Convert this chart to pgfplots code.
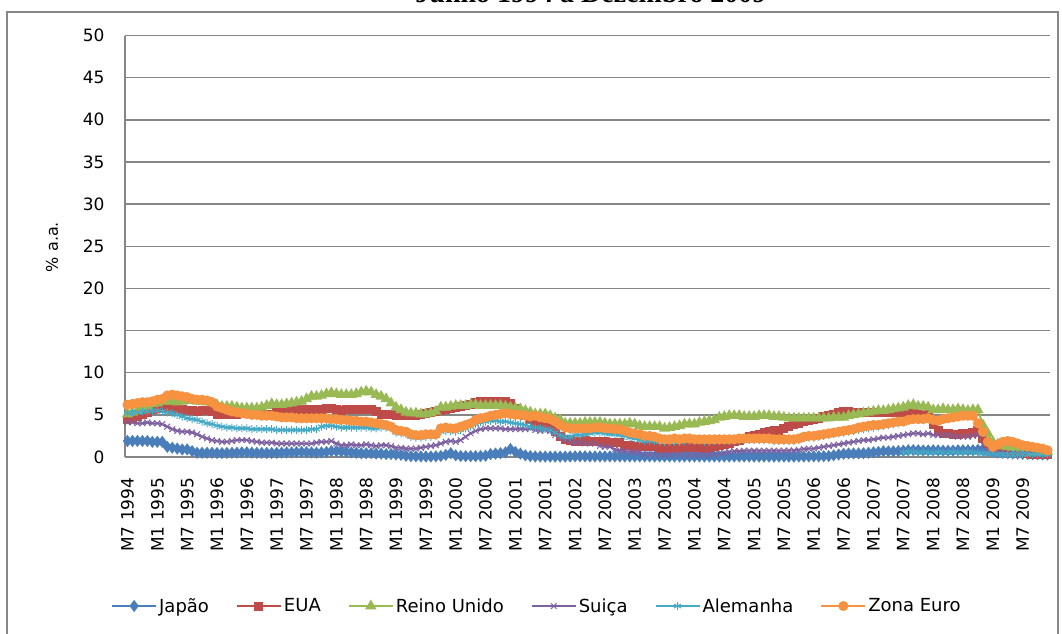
\documentclass[border=0pt]{standalone}
\usepackage{pgfplots}
\pgfplotsset{compat=1.18}
\usepackage{pgfplotstable}
\usepackage{fontspec}
\setmainfont{DejaVu Sans}
\newfontfamily\titlefont{Liberation Serif}

\definecolor{cjp}{HTML}{4A7EBB}
\definecolor{cus}{HTML}{BE4B48}
\definecolor{cuk}{HTML}{98B954}
\definecolor{cch}{HTML}{7D60A0}
\definecolor{cde}{HTML}{46AAC5}
\definecolor{ceu}{HTML}{F69240}
\definecolor{gridgray}{HTML}{868686}

% monthly rates, M7 1994 (i=0) to M12 2009 (i=185)
\pgfplotstableread{
i jp us uk ch de eu
0 1.9 4.5 5.1 4.1 5.2 6.2
1 1.9 4.6 5.3 4.1 5.3 6.3
2 1.9 4.8 5.5 4.0 5.3 6.4
3 1.9 5.0 5.8 4.0 5.4 6.5
4 1.9 5.3 6.0 4.1 5.4 6.5
5 1.8 5.6 6.3 4.0 5.5 6.6
6 1.8 5.8 6.4 4.0 5.5 6.8
7 1.8 5.9 6.6 3.9 5.4 6.9
8 1.2 5.9 6.6 3.6 5.3 7.3
9 1.1 5.8 6.6 3.3 5.2 7.4
10 1.0 5.8 6.5 3.1 5.0 7.3
11 0.9 5.6 6.6 3.0 4.8 7.2
12 0.9 5.5 6.7 3.0 4.6 7.1
13 0.7 5.5 6.7 2.9 4.5 6.9
14 0.5 5.4 6.6 2.7 4.4 6.8
15 0.5 5.5 6.6 2.4 4.2 6.8
16 0.5 5.5 6.5 2.2 4.0 6.7
17 0.5 5.4 6.4 2.0 3.9 6.5
18 0.47 5.1 6.2 1.9 3.7 6.0
19 0.47 5.0 6.0 1.8 3.6 5.8
20 0.48 5.0 6.0 1.8 3.5 5.6
21 0.50 5.0 6.0 1.9 3.5 5.4
22 0.52 5.1 5.9 2.0 3.4 5.3
23 0.55 5.2 5.8 2.0 3.4 5.2
24 0.55 5.3 5.8 2.0 3.4 5.1
25 0.52 5.2 5.8 1.9 3.3 5.0
26 0.50 5.2 5.8 1.8 3.3 5.0
27 0.49 5.1 5.9 1.7 3.3 4.9
28 0.48 5.1 6.1 1.7 3.3 4.9
29 0.48 5.1 6.3 1.7 3.3 4.9
30 0.50 5.4 6.2 1.6 3.2 4.8
31 0.52 5.4 6.2 1.6 3.2 4.7
32 0.55 5.5 6.3 1.6 3.2 4.7
33 0.55 5.6 6.4 1.6 3.2 4.7
34 0.58 5.7 6.5 1.6 3.2 4.6
35 0.60 5.6 6.6 1.6 3.2 4.6
36 0.58 5.6 6.9 1.6 3.2 4.6
37 0.55 5.6 7.2 1.6 3.3 4.6
38 0.52 5.6 7.2 1.7 3.3 4.6
39 0.55 5.6 7.3 1.8 3.6 4.6
40 0.60 5.7 7.5 1.8 3.7 4.6
41 0.70 5.8 7.6 1.9 3.7 4.5
42 0.70 5.6 7.5 1.6 3.6 4.5
43 0.65 5.5 7.4 1.4 3.5 4.4
44 0.60 5.6 7.4 1.4 3.5 4.4
45 0.55 5.6 7.4 1.5 3.5 4.3
46 0.50 5.6 7.5 1.4 3.5 4.3
47 0.45 5.6 7.7 1.4 3.5 4.2
48 0.45 5.6 7.8 1.5 3.5 4.2
49 0.45 5.6 7.7 1.4 3.4 4.1
50 0.40 5.4 7.4 1.3 3.4 4.0
51 0.40 5.0 7.2 1.4 3.5 3.9
52 0.35 5.1 6.9 1.4 3.5 3.8
53 0.35 5.0 6.4 1.3 3.4 3.6
54 0.30 4.9 5.9 1.1 2.9 3.2
55 0.25 4.9 5.6 1.1 2.8 3.1
56 0.15 4.9 5.3 1.0 2.7 3.0
57 0.10 4.9 5.2 1.0 2.4 2.7
58 0.08 4.9 5.2 1.0 2.3 2.6
59 0.07 5.1 5.1 1.1 2.3 2.6
60 0.06 5.2 5.1 1.2 2.4 2.7
61 0.06 5.3 5.2 1.3 2.4 2.7
62 0.08 5.4 5.4 1.4 2.5 2.7
63 0.12 5.5 5.9 1.6 3.0 3.4
64 0.25 5.6 5.9 1.8 3.1 3.5
65 0.45 5.8 6.0 1.9 3.1 3.4
66 0.20 5.9 6.1 1.8 3.0 3.4
67 0.12 6.0 6.1 2.0 3.2 3.6
68 0.10 6.1 6.1 2.4 3.4 3.8
69 0.10 6.2 6.2 2.8 3.6 4.0
70 0.10 6.5 6.2 3.1 3.9 4.4
71 0.12 6.6 6.1 3.3 4.1 4.6
72 0.15 6.6 6.1 3.4 4.2 4.7
73 0.35 6.6 6.1 3.4 4.3 4.9
74 0.40 6.6 6.1 3.4 4.3 5.0
75 0.45 6.6 6.1 3.4 4.2 5.1
76 0.55 6.6 6.0 3.3 4.2 5.2
77 0.95 6.4 5.9 3.3 4.1 5.1
78 0.60 5.7 5.8 3.3 4.0 5.0
79 0.40 5.3 5.7 3.3 3.9 5.0
80 0.20 4.9 5.5 3.3 3.8 4.9
81 0.10 4.5 5.3 3.4 3.6 4.8
82 0.06 3.9 5.1 3.2 3.5 4.9
83 0.06 3.7 5.1 3.1 3.4 4.7
84 0.05 3.6 5.1 3.2 3.3 4.6
85 0.05 3.5 4.9 3.1 3.2 4.5
86 0.05 3.0 4.6 2.6 2.9 4.2
87 0.05 2.4 4.4 2.3 2.6 3.8
88 0.05 2.1 4.0 2.0 2.4 3.5
89 0.06 1.9 4.0 1.9 2.4 3.4
90 0.08 1.8 4.0 1.7 2.6 3.4
91 0.08 1.8 4.0 1.7 2.6 3.4
92 0.08 1.9 4.1 1.6 2.7 3.4
93 0.07 1.8 4.1 1.6 2.8 3.4
94 0.07 1.8 4.1 1.6 2.9 3.5
95 0.07 1.8 4.1 1.3 2.9 3.5
96 0.07 1.8 4.0 1.2 2.8 3.4
97 0.07 1.7 3.9 1.2 2.7 3.4
98 0.07 1.7 3.9 0.9 2.7 3.3
99 0.07 1.7 3.9 0.8 2.6 3.3
100 0.07 1.4 3.9 0.7 2.5 3.1
101 0.07 1.4 4.0 0.6 2.3 2.9
102 0.07 1.3 3.9 0.6 2.2 2.8
103 0.07 1.3 3.7 0.5 2.0 2.7
104 0.07 1.2 3.6 0.3 1.9 2.5
105 0.07 1.2 3.6 0.3 1.9 2.5
106 0.06 1.2 3.6 0.3 1.9 2.4
107 0.06 1.0 3.6 0.25 1.8 2.2
108 0.06 1.0 3.4 0.25 1.8 2.1
109 0.06 1.0 3.5 0.3 1.8 2.1
110 0.06 1.0 3.6 0.3 1.8 2.2
111 0.06 1.1 3.7 0.3 1.8 2.1
112 0.06 1.1 3.9 0.3 1.9 2.2
113 0.06 1.1 3.9 0.25 1.9 2.2
114 0.06 1.1 3.9 0.25 1.9 2.1
115 0.06 1.1 4.1 0.25 1.9 2.1
116 0.06 1.0 4.2 0.25 1.8 2.1
117 0.06 1.1 4.3 0.3 1.8 2.1
118 0.06 1.2 4.4 0.3 1.9 2.1
119 0.06 1.4 4.7 0.4 1.9 2.1
120 0.06 1.5 4.8 0.5 1.9 2.1
121 0.06 1.6 4.9 0.6 1.9 2.1
122 0.06 1.8 4.9 0.7 1.9 2.1
123 0.06 2.0 4.9 0.7 1.9 2.2
124 0.06 2.2 4.8 0.75 2.0 2.2
125 0.06 2.4 4.8 0.75 2.0 2.2
126 0.05 2.6 4.8 0.75 2.0 2.2
127 0.05 2.7 4.9 0.75 2.0 2.2
128 0.05 2.9 4.9 0.75 2.0 2.2
129 0.05 3.0 4.9 0.75 2.0 2.2
130 0.05 3.1 4.8 0.75 1.9 2.1
131 0.05 3.2 4.8 0.75 1.9 2.1
132 0.05 3.4 4.7 0.75 1.9 2.1
133 0.05 3.6 4.6 0.77 1.9 2.1
134 0.05 3.8 4.6 0.78 1.9 2.1
135 0.06 4.0 4.6 0.85 2.0 2.2
136 0.06 4.2 4.6 0.95 2.2 2.4
137 0.07 4.3 4.6 1.0 2.3 2.5
138 0.08 4.5 4.6 1.0 2.3 2.5
139 0.08 4.6 4.6 1.1 2.4 2.6
140 0.10 4.8 4.6 1.2 2.5 2.7
141 0.12 4.9 4.6 1.3 2.6 2.8
142 0.20 5.1 4.7 1.4 2.7 2.9
143 0.30 5.3 4.7 1.5 2.8 3.0
144 0.38 5.4 4.7 1.6 2.9 3.1
145 0.42 5.4 4.9 1.7 3.0 3.2
146 0.42 5.3 5.0 1.8 3.1 3.3
147 0.43 5.3 5.1 1.9 3.2 3.5
148 0.45 5.3 5.2 2.0 3.3 3.6
149 0.50 5.3 5.3 2.0 3.4 3.7
150 0.55 5.3 5.4 2.1 3.5 3.8
151 0.60 5.3 5.5 2.2 3.6 3.8
152 0.68 5.3 5.5 2.3 3.7 3.9
153 0.68 5.3 5.6 2.3 3.8 4.0
154 0.68 5.3 5.7 2.4 3.9 4.1
155 0.70 5.3 5.8 2.5 4.0 4.2
156 0.75 5.3 5.9 2.6 0.5 4.2
157 0.80 5.4 6.1 2.7 0.6 4.4
158 0.82 5.4 6.2 2.8 0.6 4.5
159 0.80 5.1 6.0 2.8 0.5 4.5
160 0.78 4.9 6.0 2.7 0.6 4.5
161 0.78 5.0 5.9 2.8 0.5 4.6
162 0.80 3.9 5.6 2.6 0.5 4.4
163 0.78 3.1 5.6 2.6 0.6 4.3
164 0.75 2.8 5.7 2.6 0.5 4.5
165 0.75 2.8 5.6 2.6 0.5 4.6
166 0.75 2.7 5.6 2.5 0.6 4.7
167 0.80 2.7 5.7 2.4 0.5 4.8
168 0.80 2.8 5.6 2.4 0.5 4.9
169 0.80 2.8 5.5 2.4 0.6 4.9
170 0.80 2.9 5.6 2.5 0.5 4.9
171 0.85 3.2 5.6 2.6 0.5 4.0
172 0.80 2.2 3.8 1.5 0.4 3.0
173 0.70 1.6 2.8 0.9 0.4 1.8
174 0.60 1.1 1.8 0.5 0.4 1.2
175 0.55 1.2 1.5 0.4 0.3 1.5
176 0.50 1.2 1.3 0.4 0.3 1.8
177 0.45 1.0 1.2 0.4 0.3 1.9
178 0.42 0.8 1.1 0.4 0.3 1.8
179 0.40 0.6 1.0 0.4 0.3 1.6
180 0.38 0.5 0.9 0.4 0.3 1.4
181 0.35 0.4 0.8 0.4 0.3 1.3
182 0.33 0.3 0.6 0.35 0.3 1.2
183 0.32 0.3 0.6 0.3 0.3 1.1
184 0.30 0.3 0.6 0.3 0.3 1.0
185 0.30 0.3 0.6 0.3 0.3 0.8
}\rates

\begin{document}
\begin{tikzpicture}[x=1pt,y=1pt]
\draw[gridgray, line width=1.2pt] (7,-10) rectangle (1058,621);
\node[font=\titlefont\bfseries\fontsize{28}{30}\selectfont, anchor=base] at (591,630) {Junho 1994 a Dezembro 2009};
\node[rotate=90, font=\fontsize{16}{18}\selectfont] at (52,386) {\% a.a.};
\begin{axis}[
  at={(125pt,176pt)}, anchor=south west,
  scale only axis, width=925pt, height=421.5pt,
  xmin=-0.5, xmax=185.5, ymin=0, ymax=50,
  ytick={0,5,...,50},
  xtick={0,6,...,180},
  xticklabels={M7 1994,M1 1995,M7 1995,M1 1996,M7 1996,M1 1997,M7 1997,M1 1998,M7 1998,M1 1999,M7 1999,M1 2000,M7 2000,M1 2001,M7 2001,M1 2002,M7 2002,M1 2003,M7 2003,M1 2004,M7 2004,M1 2005,M7 2005,M1 2006,M7 2006,M1 2007,M7 2007,M1 2008,M7 2008,M1 2009,M7 2009},
  axis x line=bottom, axis y line=left,
  axis line style={-, draw=gridgray, line width=1.5pt},
  ymajorgrids, grid style={gridgray, line width=1.5pt},
  major tick length=0pt,
  tick label style={font=\fontsize{17}{20}\selectfont},
  /pgf/number format/assume math mode=true,
  yticklabel shift=17pt,
  xticklabel style={rotate=90, anchor=east},
  xticklabel shift=17pt,
  clip=false,
  every axis plot/.append style={line width=2pt},
  legend columns=6,
  legend image code/.code={\draw[mark repeat=2,mark phase=2] plot coordinates {(0pt,0pt) (22pt,0pt) (44pt,0pt)};},
  legend style={at={(axis description cs:-0.0184,-0.3535)}, anchor=west,
    draw=none, fill=none, font=\fontsize{18}{20}\selectfont,
    /tikz/every even column/.append style={column sep=25pt}},
]
\addplot[color=cjp, mark=diamond*, mark size=4.5pt, mark options={solid, fill=cjp}] table[x=i, y=jp] {\rates};
\addlegendentry{Japão}
\addplot[color=cus, mark=square*, mark size=3.5pt, mark options={solid, fill=cus}] table[x=i, y=us] {\rates};
\addlegendentry{EUA}
\addplot[color=cuk, mark=triangle*, mark size=4.5pt, mark options={solid, fill=cuk}] table[x=i, y=uk] {\rates};
\addlegendentry{Reino Unido}
\addplot[color=cch, mark=x, mark size=4pt, mark options={solid, line width=1pt}] table[x=i, y=ch] {\rates};
\addlegendentry{Suiça}
\addplot[color=cde, mark=asterisk, mark size=4pt, mark options={solid, line width=1pt}, restrict x to domain=0:155] table[x=i, y=de] {\rates};
\addlegendentry{Alemanha}
\addplot[color=cde, mark=asterisk, mark size=4pt, mark options={solid, line width=1pt}, restrict x to domain=156:185, forget plot] table[x=i, y=de] {\rates};
\addplot[color=ceu, mark=*, mark size=4pt, mark options={solid, fill=ceu}] table[x=i, y=eu] {\rates};
\addlegendentry{Zona Euro}
\end{axis}
\pgfresetboundingbox
\path[use as bounding box] (0,0) rectangle (1062,633);
\end{tikzpicture}
\end{document}
